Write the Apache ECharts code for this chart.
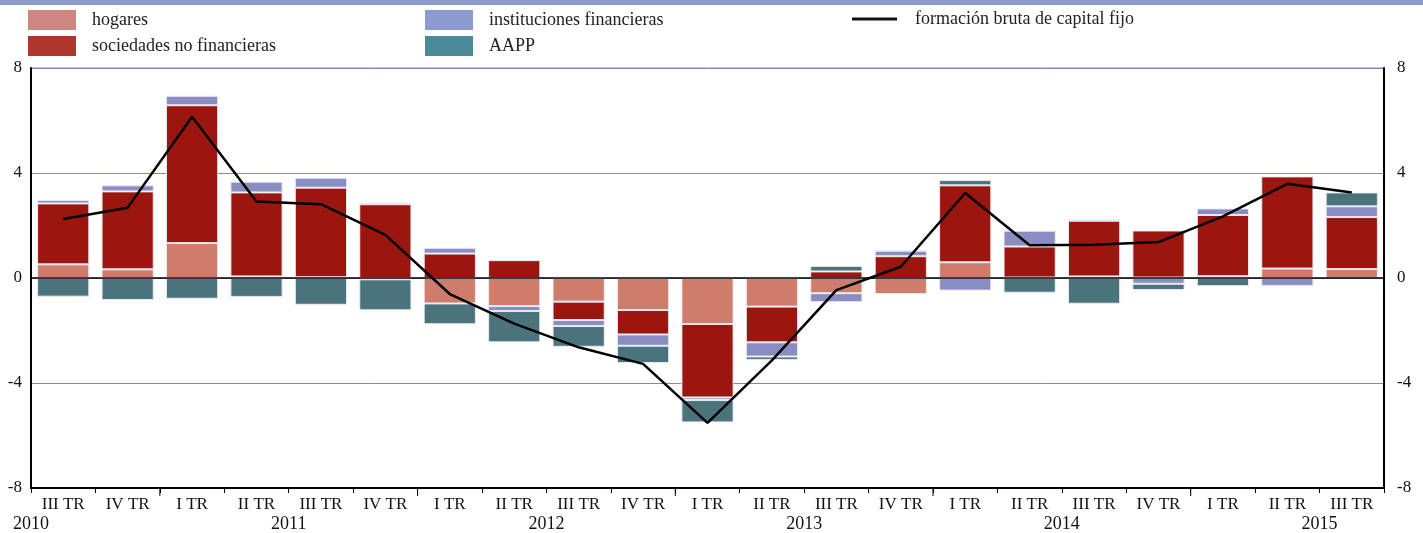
<!DOCTYPE html>
<html>
<head>
<meta charset="utf-8">
<script src="https://cdn.jsdelivr.net/npm/echarts@6/dist/echarts.min.js"></script>
<style>
html,body{margin:0;padding:0;background:#fff;}
#chart{width:1423px;height:533px;}
</style>
</head>
<body>
<div id="chart"></div>
<script>
// Data
var categories = ["III TR","IV TR","I TR","II TR","III TR","IV TR","I TR","II TR","III TR","IV TR","I TR","II TR","III TR","IV TR","I TR","II TR","III TR","IV TR","I TR","II TR","III TR"];
var years = [2010,2010,2011,2011,2011,2011,2012,2012,2012,2012,2013,2013,2013,2013,2014,2014,2014,2014,2015,2015,2015];
var quarters = [3,4,1,2,3,4,1,2,3,4,1,2,3,4,1,2,3,4,1,2,3];
var hogares = [0.52,0.33,1.33,0.06,0.03,-0.05,-0.97,-1.07,-0.90,-1.22,-1.75,-1.09,-0.58,-0.61,0.60,0.02,0.06,0.02,0.07,0.36,0.34];
var sociedades = [2.32,2.97,5.25,3.20,3.41,2.81,0.93,0.68,-0.70,-0.93,-2.80,-1.36,0.25,0.83,2.93,1.18,2.12,1.79,2.33,3.51,1.98];
var instituciones = [0.13,0.23,0.36,0.41,0.38,0.06,0.22,-0.19,-0.23,-0.43,-0.10,-0.54,-0.34,0.21,-0.48,0.60,0.05,-0.22,0.25,-0.30,0.41];
var aapp = [-0.71,-0.84,-0.79,-0.72,-1.02,-1.18,-0.79,-1.19,-0.79,-0.66,-0.85,-0.13,0.21,0.00,0.20,-0.56,-0.98,-0.24,-0.31,0.00,0.53];
var fbcf = [2.25,2.68,6.14,2.91,2.81,1.64,-0.61,-1.74,-2.64,-3.27,-5.52,-3.14,-0.46,0.43,3.24,1.25,1.27,1.37,2.35,3.59,3.26];
var yTicks = [-8,-4,0,4,8];

var chart = echarts.init(document.getElementById('chart'));
var FONT = '"Liberation Serif", "DejaVu Serif", serif';
var barStyle = function(c){ return {color:c, borderColor:'rgba(235,235,245,0.95)', borderWidth:1}; };
var gridL = 31, gridR = 39, gridT = 68, gridB = 45;
var legendText = {fontFamily:FONT,fontSize:18,color:'#222',padding:[0,0,0,11]};

var option = {
  animation:false,
  backgroundColor:'#fff',
  textStyle:{fontFamily:FONT},
  grid:{left:gridL,right:gridR,top:gridT,bottom:gridB,containLabel:false},
  legend:[
    {left:23,top:5,orient:'vertical',itemWidth:48,itemHeight:20,itemGap:6,icon:'rect',
     textStyle:legendText,
     data:[{name:'hogares',itemStyle:{color:'#cd8680',borderWidth:0}},{name:'sociedades no financieras',itemStyle:{color:'#ad352b',borderWidth:0}}]},
    {left:420,top:5,orient:'vertical',itemWidth:48,itemHeight:20,itemGap:6,icon:'rect',
     textStyle:legendText,
     data:[{name:'instituciones financieras',itemStyle:{color:'#8e9bd0',borderWidth:0}},{name:'AAPP',itemStyle:{color:'#4b8b97',borderWidth:0}}]},
    {left:847,top:5,orient:'vertical',itemWidth:45,itemHeight:20,
     textStyle:{fontFamily:FONT,fontSize:18,color:'#222',padding:[0,0,0,13]},
     data:[{name:'formación bruta de capital fijo',icon:'path://M0,9 L45,9 L45,12 L0,12 Z',itemStyle:{color:'#111'}}]}
  ],
  xAxis:[{
    type:'category', data:categories, boundaryGap:true, position:'bottom',
    axisLine:{onZero:false,lineStyle:{color:'#000',width:2}},
    axisTick:{show:true,length:5,lineStyle:{color:'#000',width:1}},
    axisLabel:{fontFamily:FONT,fontSize:17,color:'#111',margin:8,interval:0},
    splitLine:{show:false}
  }],
  yAxis:[{
    type:'value', min:-8, max:8, interval:4, position:'left',
    axisLine:{show:true,lineStyle:{color:'#000',width:2}},
    axisTick:{show:false},
    axisLabel:{fontFamily:FONT,fontSize:17,color:'#111',margin:9},
    splitLine:{show:true,lineStyle:{color:'#8384cc',width:1}}
  },{
    type:'value', min:-8, max:8, interval:4, position:'right',
    axisLine:{show:true,lineStyle:{color:'#000',width:2}},
    axisTick:{show:false},
    axisLabel:{fontFamily:FONT,fontSize:17,color:'#111',margin:13},
    splitLine:{show:false}
  }],
  series:[
    {name:'hogares',type:'bar',stack:'t',data:hogares,barWidth:'81%',itemStyle:barStyle('#cf7d6a')},
    {name:'sociedades no financieras',type:'bar',stack:'t',data:sociedades,itemStyle:barStyle('#9c1610')},
    {name:'instituciones financieras',type:'bar',stack:'t',data:instituciones,itemStyle:barStyle('#8a8dc2')},
    {name:'AAPP',type:'bar',stack:'t',data:aapp,itemStyle:barStyle('#4a737b'),
     markLine:{silent:true,symbol:'none',label:{show:false},lineStyle:{color:'#000',width:1.5,type:'solid'},data:[{yAxis:0}]}},
    {name:'formación bruta de capital fijo',type:'line',data:fbcf,symbol:'none',z:5,
     lineStyle:{color:'#000',width:2.5},itemStyle:{color:'#000'}}
  ]
};
chart.setOption(option);

// top band, top border, and year labels via axis scale
function px(idx){
  var p0 = chart.convertToPixel({xAxisIndex:0}, 0);
  var p1 = chart.convertToPixel({xAxisIndex:0}, 1);
  return p0 + (p1 - p0) * idx;
}
var graphics = [
  {type:'rect',shape:{x:0,y:0,width:1423,height:5},style:{fill:'#8d9bcb'},silent:true},
  {type:'line',shape:{x1:gridL,y1:chart.convertToPixel({yAxisIndex:0},8),x2:1423-gridR,y2:chart.convertToPixel({yAxisIndex:0},8)},style:{stroke:'#8384cc',lineWidth:1},silent:true}
];
var seen = {};
for (var i=0;i<categories.length;i++){
  var y = years[i];
  if (seen[y]) continue;
  seen[y] = true;
  var start = i - (quarters[i]-1);
  var center = start + 1.5;
  graphics.push({type:'text',x:px(center),y:524,style:{text:String(y),font:'18px '+FONT,fill:'#111',textAlign:'center',textVerticalAlign:'middle'},silent:true});
}
// longer ticks at year boundaries
for (var j=1;j<categories.length;j++){
  if (quarters[j]===1){
    var bx = (px(j-1)+px(j))/2;
    var by = chart.convertToPixel({yAxisIndex:0},-8);
    graphics.push({type:'line',shape:{x1:bx,y1:by,x2:bx,y2:by+8},style:{stroke:'#000',lineWidth:1},silent:true});
  }
}
chart.setOption({graphic:graphics});
</script>
</body>
</html>
